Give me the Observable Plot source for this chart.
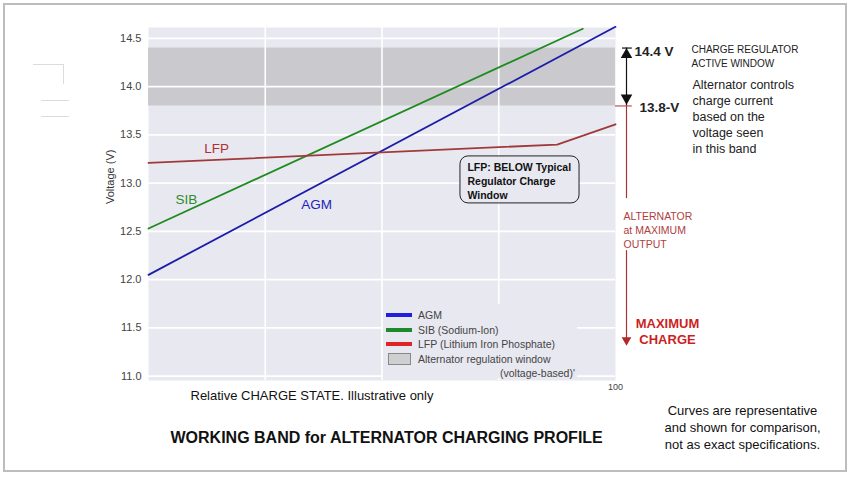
<!DOCTYPE html>
<html><head><meta charset="utf-8">
<script src="https://cdn.jsdelivr.net/npm/d3@7"></script>
<script src="https://cdn.jsdelivr.net/npm/@observablehq/plot@0.6"></script>
<style>
body{margin:0;background:#fff;}
#wrap{position:relative;width:856px;height:477px;overflow:hidden;font-family:"Liberation Sans",Arial,sans-serif;}
#wrap svg{position:absolute;left:0;top:0;}
.border{position:absolute;left:3px;top:3px;width:840px;height:465px;border:2px solid #bdbdbd;pointer-events:none;}
.legend{position:absolute;left:383px;top:304px;width:194px;height:74px;background:#e8e8f1;}
.row{position:absolute;left:35px;font-size:10.5px;color:#444;white-space:nowrap;line-height:12px;}
.sw{position:absolute;left:3px;width:26px;height:4px;}
.stray{position:absolute;background:#dcdcdc;}
</style></head><body>
<div id="wrap"></div>
<script>
// ---- data ----
const chargeAGM = [0, 100];
const voltAGM = [12.05, 14.62];
const chargeSIB = [0, 93];
const voltSIB = [12.53, 14.60];
const chargeLFP = [0, 87.5, 100];
const voltLFP = [13.21, 13.40, 13.61];
const regulatorWindow = [13.8, 14.4];
const yTicks = [11.0, 11.5, 12.0, 12.5, 13.0, 13.5, 14.0, 14.5];
const xGridTicks = [25, 50, 75];
const xTicks = [100];
const seriesNames = ["AGM", "SIB", "LFP"];
const lineColors = ["#1c1ca8", "#1f8b1f", "#a03a3a"];
const legendLabels = ["AGM", "SIB (Sodium-Ion)", "LFP (Lithium Iron Phosphate)", "Alternator regulation window"];
const legendColors = ["#1f1fe0", "#1a8a2a", "#dd2525"];

const rows = [];
[[chargeAGM, voltAGM], [chargeSIB, voltSIB], [chargeLFP, voltLFP]].forEach(([xs, vs], i) => {
  xs.forEach((x, j) => rows.push({name: seriesNames[i], x, v: vs[j]}));
});

const bg = "#e8e8f1";
const narrow = "'Liberation Sans Narrow','Arial Narrow','Liberation Sans',Arial,sans-serif";

const plot = Plot.plot({
  width: 856, height: 477,
  marginLeft: 148, marginRight: 241, marginTop: 27, marginBottom: 97,
  style: {fontFamily: "'Liberation Sans',Arial,sans-serif", background: "transparent", overflow: "visible"},
  x: {domain: [0, 100]},
  y: {domain: [10.955, 14.613]},
  color: {domain: seriesNames, range: lineColors},
  marks: [
    Plot.frame({fill: bg, stroke: null}),
    Plot.rect([regulatorWindow], {y1: d => d[0], y2: d => d[1], fill: "#c9c9ce"}),
    Plot.ruleX(xGridTicks, {stroke: "white", strokeWidth: 1.6}),
    Plot.ruleY(yTicks, {stroke: "white", strokeWidth: 1.6}),
    Plot.axisY(yTicks, {tickSize: 0, tickPadding: 7, tickFormat: d3.format(".1f"), fontSize: 11, color: "#444",
      label: null}),
    Plot.text(["Voltage (V)"], {frameAnchor: "left", dx: -38, rotate: -90, fontSize: 11, fill: "#333"}),
    Plot.axisX(xTicks, {tickSize: 0, tickPadding: 3, fontSize: 9, color: "#444", label: null}),
    Plot.line(rows, {x: "x", y: "v", z: "name", stroke: "name", strokeWidth: 1.8}),
    // series labels
    Plot.text([{t: "LFP", x: 14.6, v: 13.36, c: "#b03030"}, {t: "SIB", x: 8.1, v: 12.83, c: "#2e8b2e"}, {t: "AGM", x: 36, v: 12.78, c: "#1f1fb8"}],
      {x: "x", y: "v", text: "t", fill: "c", fontSize: 13.5}),
    // LFP note box
    Plot.rect([{x1: 66.8, x2: 92.3, y1: 12.79, y2: 13.277}], {x1: "x1", x2: "x2", y1: "y1", y2: "y2", rx: 8, fill: bg, stroke: "#222", strokeWidth: 1}),
    Plot.text(["LFP: BELOW Typical\nRegulator Charge\nWindow"], {x: 66.8, y: 13.277, dx: 7, dy: 5, textAnchor: "start", lineAnchor: "top",
      fontWeight: "bold", fontSize: 10.5, lineHeight: 1.33, fill: "#111"}),
    // regulator window arrow
    Plot.ruleX([0], {x: 100, y1: regulatorWindow[1], y2: regulatorWindow[0], dx: 11, stroke: "#111", strokeWidth: 1.2}),
    Plot.ruleY([regulatorWindow[1]], {x1: 101.5, x2: 103.6, stroke: "#111", strokeWidth: 1.2}),
    Plot.ruleY([regulatorWindow[0]], {x1: 100, x2: 103.6, stroke: "#a33", strokeWidth: 1}),
    Plot.dot([0], {x: 100, y: regulatorWindow[1], dx: 11, dy: 6.7, symbol: "triangle", r: 4.3, fill: "#111", stroke: null}),
    Plot.dot([0], {x: 100, y: regulatorWindow[0], dx: 11, dy: -8, symbol: "triangle", r: 4.3, rotate: 180, fill: "#111", stroke: null}),
    Plot.text(["14.4 V"], {x: 100, y: regulatorWindow[1], dx: 19, dy: 4, textAnchor: "start", fontWeight: "bold", fontSize: 13.5, fill: "#222"}),
    Plot.text(["13.8-V"], {x: 100, y: regulatorWindow[0], dx: 24, dy: 1.5, textAnchor: "start", fontWeight: "bold", fontSize: 13.5, fill: "#222"}),
    // alternator max output arrow
    Plot.ruleX([0], {x: 100, y1: regulatorWindow[0], y2: 12.84, dx: 11, stroke: "#a33", strokeWidth: 1.2}),
    Plot.ruleX([0], {x: 100, y1: 12.30, y2: 11.36, dx: 11, stroke: "#a33", strokeWidth: 1.2}),
    Plot.dot([0], {x: 100, y: 11.315, dx: 11, dy: -5.6, symbol: "triangle", r: 3.6, rotate: 180, fill: "#b02a2a", stroke: null}),
    Plot.text(["ALTERNATOR\nat MAXIMUM\nOUTPUT"], {x: 100, y: 12.72, dx: 8, textAnchor: "start", lineAnchor: "top", fontSize: 10.5, lineHeight: 1.33, fill: "#b04040"}),
    Plot.text(["MAXIMUM\nCHARGE"], {x: 100, y: 11.62, dx: 52, textAnchor: "middle", lineAnchor: "top", fontSize: 13, fontWeight: "bold", lineHeight: 1.23, fill: "#cc1f1f"}),
    // right notes
    Plot.text(["CHARGE REGULATOR\nACTIVE WINDOW"], {frameAnchor: "top-right", dx: 76, dy: 16, textAnchor: "start", lineAnchor: "top", fontSize: 10, lineHeight: 1.4, fill: "#222"}),
    Plot.text(["Alternator controls\ncharge current\nbased on the\nvoltage seen\nin this band"], {frameAnchor: "top-right", dx: 77, dy: 50, textAnchor: "start", lineAnchor: "top", fontSize: 12.5, lineHeight: 1.28, fill: "#222"}),
    // bottom texts
    Plot.text(["Relative CHARGE STATE. Illustrative only"], {frameAnchor: "bottom-left", dx: 42, dy: 10, textAnchor: "start", lineAnchor: "top", fontSize: 13, fontFamily: narrow, fill: "#111"}),
    Plot.text(["WORKING BAND for ALTERNATOR CHARGING PROFILE"], {frameAnchor: "bottom-left", dx: 22, dy: 51, textAnchor: "start", lineAnchor: "top", fontSize: 16, fontWeight: "bold", fontFamily: narrow, fill: "#111"}),
    Plot.text(["Curves are representative\nand shown for comparison,\nnot as exact specifications."], {frameAnchor: "bottom-right", dx: 127, dy: 22, textAnchor: "middle", lineAnchor: "top", fontSize: 13, lineHeight: 1.31, fontFamily: narrow, fill: "#111"})
  ]
});

const wrap = document.getElementById("wrap");
wrap.appendChild(plot);

// legend
const leg = document.createElement("div");
leg.className = "legend";
legendLabels.forEach((lab, i) => {
  const cy = 11 + i * 14.7;
  if (i < 3) {
    const sw = document.createElement("div");
    sw.className = "sw"; sw.style.top = (cy - 2) + "px"; sw.style.background = legendColors[i];
    leg.appendChild(sw);
  } else {
    const sw = document.createElement("div");
    sw.className = "sw"; sw.style.left = "5px"; sw.style.width = "21px"; sw.style.height = "10px";
    sw.style.top = (cy - 6) + "px"; sw.style.background = "#cfcfd2"; sw.style.border = "1px solid #888";
    leg.appendChild(sw);
  }
  const t = document.createElement("div");
  t.className = "row"; t.style.top = (cy - 6) + "px"; t.textContent = lab;
  leg.appendChild(t);
});
const t2 = document.createElement("div");
t2.className = "row"; t2.style.left = "117px"; t2.style.top = "63px"; t2.textContent = "(voltage-based)'";
leg.appendChild(t2);
wrap.appendChild(leg);

// frame border and faint marks
const b = document.createElement("div"); b.className = "border"; wrap.appendChild(b);
[[33,64,30,1],[63,64,1,20],[41,100,28,1],[41,116,28,1]].forEach(([l,t,w,h]) => {
  const s = document.createElement("div"); s.className = "stray";
  Object.assign(s.style, {left: l+"px", top: t+"px", width: w+"px", height: h+"px"});
  wrap.appendChild(s);
});
</script>
</body></html>
